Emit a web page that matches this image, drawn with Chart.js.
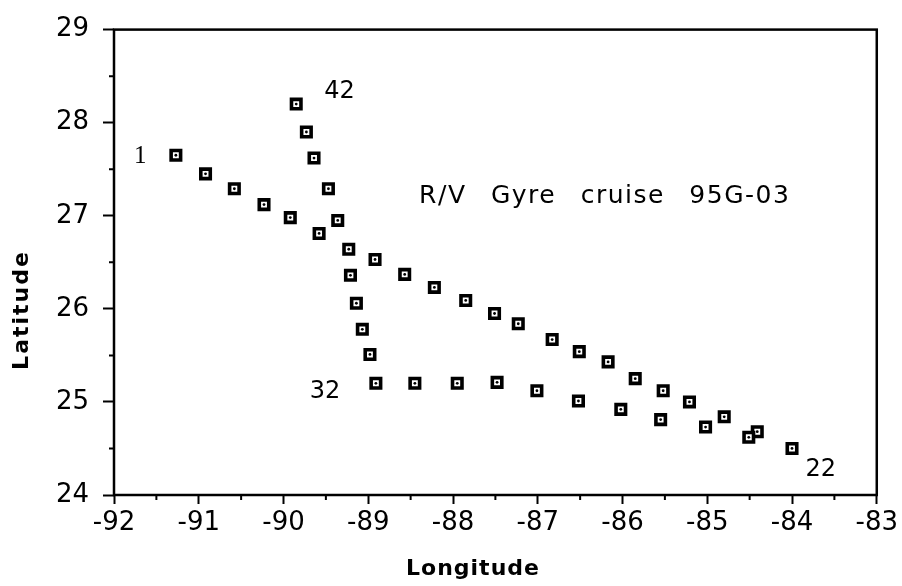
<!DOCTYPE html>
<html lang="en">
<head>
    <meta charset="UTF-8">
    <title>R/V Gyre cruise 95G-03</title>
    <script src="https://cdn.jsdelivr.net/npm/chart.js@4.4.0/dist/chart.umd.min.js"></script>
    <style>
        html, body { margin: 0; padding: 0; background: #fff; }
        #wrap { width: 902px; height: 586px; }
    </style>
</head>
<body>
    <div id="wrap">
        <canvas id="cruiseChart" width="902" height="586"></canvas>
    </div>

    <script>
        // Station positions, in cruise order
        const longitudes = [
            -91.27, -90.92, -90.58, -90.23, -89.92, -89.58, -89.23, -88.92, -88.57, -88.22,
            -87.85, -87.51, -87.23, -86.83, -86.51, -86.17, -85.85, -85.52, -85.21, -84.80,
            -84.41, -84.00, -84.51, -85.02, -85.55, -86.02, -86.52, -87.01, -87.48, -87.95,
            -88.45, -88.91, -88.98, -89.07, -89.14, -89.21, -89.36, -89.47, -89.64, -89.73,
            -89.85
        ];
        const latitudes = [
            27.65, 27.45, 27.29, 27.12, 26.98, 26.81, 26.64, 26.53, 26.37, 26.23,
            26.09, 25.95, 25.84, 25.67, 25.54, 25.43, 25.25, 25.12, 25.00, 24.84,
            24.68, 24.50, 24.62, 24.73, 24.81, 24.92, 25.01, 25.12, 25.21, 25.20,
            25.20, 25.20, 25.51, 25.78, 26.06, 26.36, 26.95, 27.29, 27.62, 27.90,
            28.20
        ];

        // Axis ranges and tick labels
        const lonTicks = [-92, -91, -90, -89, -88, -87, -86, -85, -84, -83];
        const latTicks = [24, 25, 26, 27, 28, 29];

        // Station number labels and note, anchored in data coordinates
        const stationLabels = [
            { text: '1',  lon: -91.69, lat: 27.64 },
            { text: '42', lon: -89.34, lat: 28.33 },
            { text: '32', lon: -89.51, lat: 25.11 },
            { text: '22', lon: -83.66, lat: 24.27 }
        ];
        const cruiseNote = { text: 'R/V Gyre cruise 95G-03', lon: -88.40, lat: 27.21 };

        const points = longitudes.map((lon, i) => ({ x: lon, y: latitudes[i] }));
        const FONT = '"DejaVu Sans", Geneva, sans-serif';

        // Frame, minor ticks, titles and text labels
        const decorPlugin = {
            id: 'decor',
            afterDraw(chart) {
                const { ctx, chartArea: a, scales: { x, y } } = chart;
                ctx.save();
                ctx.strokeStyle = '#000';
                ctx.lineWidth = 2.5;
                ctx.strokeRect(a.left, a.top, a.right - a.left, a.bottom - a.top);

                // minor ticks at the half degrees
                ctx.lineWidth = 2;
                ctx.beginPath();
                for (let i = 0; i < lonTicks.length - 1; i++) {
                    const px = x.getPixelForValue(lonTicks[i] + 0.5);
                    ctx.moveTo(px, a.bottom);
                    ctx.lineTo(px, a.bottom + 5);
                }
                for (let i = 0; i < latTicks.length - 1; i++) {
                    const py = y.getPixelForValue(latTicks[i] + 0.5);
                    ctx.moveTo(a.left, py);
                    ctx.lineTo(a.left - 5, py);
                }
                ctx.stroke();

                ctx.fillStyle = '#000';
                ctx.textBaseline = 'middle';
                ctx.textAlign = 'center';
                stationLabels.forEach(l => {
                    if (l.text === '1') ctx.font = '25px "Liberation Serif", serif';
                    else ctx.font = '24px ' + FONT;
                    ctx.fillText(l.text, x.getPixelForValue(l.lon), y.getPixelForValue(l.lat));
                });

                ctx.textAlign = 'left';
                ctx.font = '25px ' + FONT;
                ctx.letterSpacing = '1.5px';
                ctx.wordSpacing = '15px';
                ctx.fillText(cruiseNote.text, x.getPixelForValue(cruiseNote.lon), y.getPixelForValue(cruiseNote.lat));
                ctx.wordSpacing = '0px';

                // axis titles
                ctx.font = 'bold 22px ' + FONT;
                ctx.textAlign = 'center';
                ctx.letterSpacing = '1px';
                ctx.fillText('Longitude', 473, 569);
                ctx.letterSpacing = '2px';
                ctx.translate(22, 310);
                ctx.rotate(-Math.PI / 2);
                ctx.fillText('Latitude', 0, 0);
                ctx.restore();
            }
        };

        new Chart(document.getElementById('cruiseChart'), {
            type: 'scatter',
            data: {
                datasets: [{
                    label: 'Stations',
                    data: points,
                    order: 1,
                    pointStyle: 'rect',
                    pointRadius: 6.7,
                    pointBorderWidth: 3.6,
                    pointBorderColor: '#000',
                    pointBackgroundColor: '#fff'
                }, {
                    label: 'Centres',
                    data: points,
                    order: 0,
                    pointStyle: 'circle',
                    pointRadius: 1.4,
                    pointBorderWidth: 0,
                    pointBackgroundColor: '#000'
                }]
            },
            options: {
                responsive: false,
                animation: false,
                layout: { padding: { top: 24, right: 24, left: 0, bottom: 0 } },
                plugins: {
                    legend: { display: false },
                    tooltip: { enabled: false }
                },
                scales: {
                    x: {
                        type: 'linear',
                        min: -92,
                        max: -83,
                        afterFit(scale) { scale.height = 91; },
                        afterBuildTicks(scale) { scale.ticks = lonTicks.map(v => ({ value: v })); },
                        ticks: {
                            color: '#000',
                            font: { size: 26, family: FONT },
                            padding: 4,
                            maxRotation: 0,
                            callback: v => String(v)
                        },
                        grid: {
                            drawOnChartArea: false,
                            tickLength: 9,
                            tickWidth: 2,
                            tickColor: '#000'
                        },
                        border: { display: false }
                    },
                    y: {
                        type: 'linear',
                        min: 24,
                        max: 29,
                        afterFit(scale) { scale.width = 114; },
                        afterBuildTicks(scale) { scale.ticks = latTicks.map(v => ({ value: v })); },
                        ticks: {
                            color: '#000',
                            font: { size: 26, family: FONT },
                            padding: 14,
                            callback: v => String(v)
                        },
                        grid: {
                            drawOnChartArea: false,
                            tickLength: 11,
                            tickWidth: 2,
                            tickColor: '#000'
                        },
                        border: { display: false }
                    }
                }
            },
            plugins: [decorPlugin]
        });
    </script>
</body>
</html>
